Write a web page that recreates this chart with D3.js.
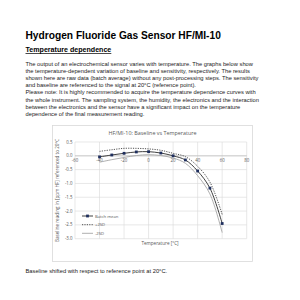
<!DOCTYPE html>
<html><head><meta charset="utf-8">
<script src="https://cdn.jsdelivr.net/npm/d3@7"></script>
<style>body{margin:0;background:#fff}svg{display:block}</style>
</head><body>
<svg id="c" width="300" height="300"></svg>
<script>
const temps = [-40,-30,-20,-10,0,10,20,30,40,50,60];
const batchMean = [-0.04,0.03,0.09,0.14,0.15,0.10,0.0,-0.15,-0.55,-1.17,-2.45];
const plus2SD  = [0.16,0.22,0.27,0.27,0.25,0.2,0.09,-0.03,-0.38,-0.95,-2.12];
const minus2SD = [-0.23,-0.14,-0.06,0.01,0.04,0.01,-0.08,-0.27,-0.72,-1.38,-2.78];
const xTicks = [-60,-40,-20,0,20,40,60,80];
const yTicks = [0.5,0.0,-0.5,-1.0,-1.5,-2.0,-2.5,-3.0];
const seriesNames = ["Batch mean","+2SD","-2SD"];
const docTitle = "Hydrogen Fluoride Gas Sensor HF/MI-10";
const docSub = "Temperature dependence";
const paragraph = [
"The output of an electrochemical sensor varies with temperature. The graphs below show",
"the temperature-dependent variation of baseline and sensitivity, respectively. The results",
"shown here are raw data (batch average) without any post-processing steps. The sensitivity",
"and baseline are referenced to the signal at 20°C (reference point).",
"Please note: It is highly recommended to acquire the temperature dependence curves with",
"the whole instrument. The sampling system, the humidity, the electronics and the interaction",
"between the electronics and the sensor have a significant impact on the temperature",
"dependence of the final measurement reading."];
const chartTitle = "HF/MI-10: Baseline vs Temperature";
const yTitle = "Baseline reading in [ppm HF] referenced to 20°C";
const xTitle = "Temperature [°C]";
const caption = "Baseline shifted with respect to reference point at 20°C.";

const svg = d3.select("#c");
svg.append("rect").attr("width",300).attr("height",300).attr("fill","#fff");
const font = "'Liberation Sans', Arial, sans-serif";

svg.append("text").attr("x",25.5).attr("y",39).attr("font-family",font).attr("font-weight","bold")
  .attr("font-size",10.2).attr("fill","#000").text(docTitle);
svg.append("text").attr("x",25.5).attr("y",52).attr("font-family",font).attr("font-weight","bold")
  .attr("font-size",7.1).attr("fill","#000").attr("text-decoration","underline").text(docSub);
svg.append("g").selectAll("text").data(paragraph).join("text")
  .attr("x",25.5).attr("y",(d,i)=>65.5+i*7.2).attr("font-family",font).attr("font-size",5.75)
  .attr("fill","#222").text(d=>d);
svg.append("text").attr("x",25.5).attr("y",273).attr("font-family",font).attr("font-size",5.75)
  .attr("fill","#222").text(caption);

// chart box
svg.append("rect").attr("x",52.5).attr("y",125.5).attr("width",200).attr("height",136)
  .attr("fill","#fff").attr("stroke","#d9d9d9").attr("stroke-width",0.8);

const x = d3.scaleLinear().domain([-60,80]).range([75,246.7]);
const y = d3.scaleLinear().domain([-3,0.5]).range([238.7,142]);
const cf = "'Open Sans', 'Liberation Sans', sans-serif";

svg.append("text").attr("x",152.5).attr("y",134.5).attr("text-anchor","middle").attr("font-family",cf)
  .attr("font-size",5.4).attr("fill","#595959").text(chartTitle);

const grid = svg.append("g").attr("stroke","#d9d9d9").attr("stroke-width",0.6);
grid.selectAll("line.h").data(yTicks).join("line").attr("class","h")
  .attr("x1",x(-60)).attr("x2",x(80)).attr("y1",d=>y(d)).attr("y2",d=>y(d));
grid.selectAll("line.v").data(xTicks).join("line").attr("class","v")
  .attr("y1",y(0.5)).attr("y2",y(-3)).attr("x1",d=>x(d)).attr("x2",d=>x(d));
svg.append("line").attr("x1",x(-60)).attr("x2",x(80)).attr("y1",y(0)).attr("y2",y(0))
  .attr("stroke","#bfbfbf").attr("stroke-width",0.7);

svg.append("g").selectAll("text").data(yTicks).join("text")
  .attr("x",72.5).attr("y",d=>y(d)+1.6).attr("text-anchor","end").attr("font-family",cf)
  .attr("font-size",4.4).attr("fill","#595959").text(d=>d.toFixed(1));
svg.append("g").selectAll("text").data(xTicks).join("text")
  .attr("x",d=>x(d)).attr("y",y(0)+6.6).attr("text-anchor","middle").attr("font-family",cf)
  .attr("font-size",4.4).attr("fill","#595959").text(d=>d);

svg.append("text").attr("transform",`translate(59,${(y(0.5)+y(-3))/2}) rotate(-90)`)
  .attr("text-anchor","middle").attr("font-family",cf).attr("font-size",4.6).attr("fill","#595959").text(yTitle);
svg.append("text").attr("x",160).attr("y",245).attr("text-anchor","middle").attr("font-family",cf)
  .attr("font-size",4.6).attr("fill","#595959").text(xTitle);

const line = d3.line().x(d=>x(d[0])).y(d=>y(d[1])).curve(d3.curveCatmullRom.alpha(0.5));
const zip = arr => temps.map((t,i)=>[t,arr[i]]);
svg.append("path").attr("d",line(zip(minus2SD))).attr("fill","none").attr("stroke","#a6a6a6").attr("stroke-width",0.9);
svg.append("path").attr("d",line(zip(plus2SD))).attr("fill","none").attr("stroke","#404040").attr("stroke-width",0.9).attr("stroke-dasharray","1.2,1.2");
svg.append("path").attr("d",line(zip(batchMean))).attr("fill","none").attr("stroke","#404040").attr("stroke-width",1);
svg.append("g").selectAll("rect").data(zip(batchMean)).join("rect")
  .attr("x",d=>x(d[0])-1.4).attr("y",d=>y(d[1])-1.4).attr("width",2.8).attr("height",2.8).attr("fill","#1f2f5e");

// legend
const lg = svg.append("g");
const ly = [216,224.7,233.3];
lg.append("line").attr("x1",82).attr("x2",93).attr("y1",ly[0]).attr("y2",ly[0]).attr("stroke","#404040").attr("stroke-width",1);
lg.append("rect").attr("x",86.1).attr("y",ly[0]-1.4).attr("width",2.8).attr("height",2.8).attr("fill","#1f2f5e");
lg.append("line").attr("x1",82).attr("x2",93).attr("y1",ly[1]).attr("y2",ly[1]).attr("stroke","#404040").attr("stroke-width",0.9).attr("stroke-dasharray","1.2,1.2");
lg.append("line").attr("x1",82).attr("x2",93).attr("y1",ly[2]).attr("y2",ly[2]).attr("stroke","#a6a6a6").attr("stroke-width",0.9);
lg.selectAll("text").data(seriesNames).join("text").attr("x",95).attr("y",(d,i)=>ly[i]+1.5)
  .attr("font-family",cf).attr("font-size",4.2).attr("fill","#595959").text(d=>d);
</script>
</body></html>
